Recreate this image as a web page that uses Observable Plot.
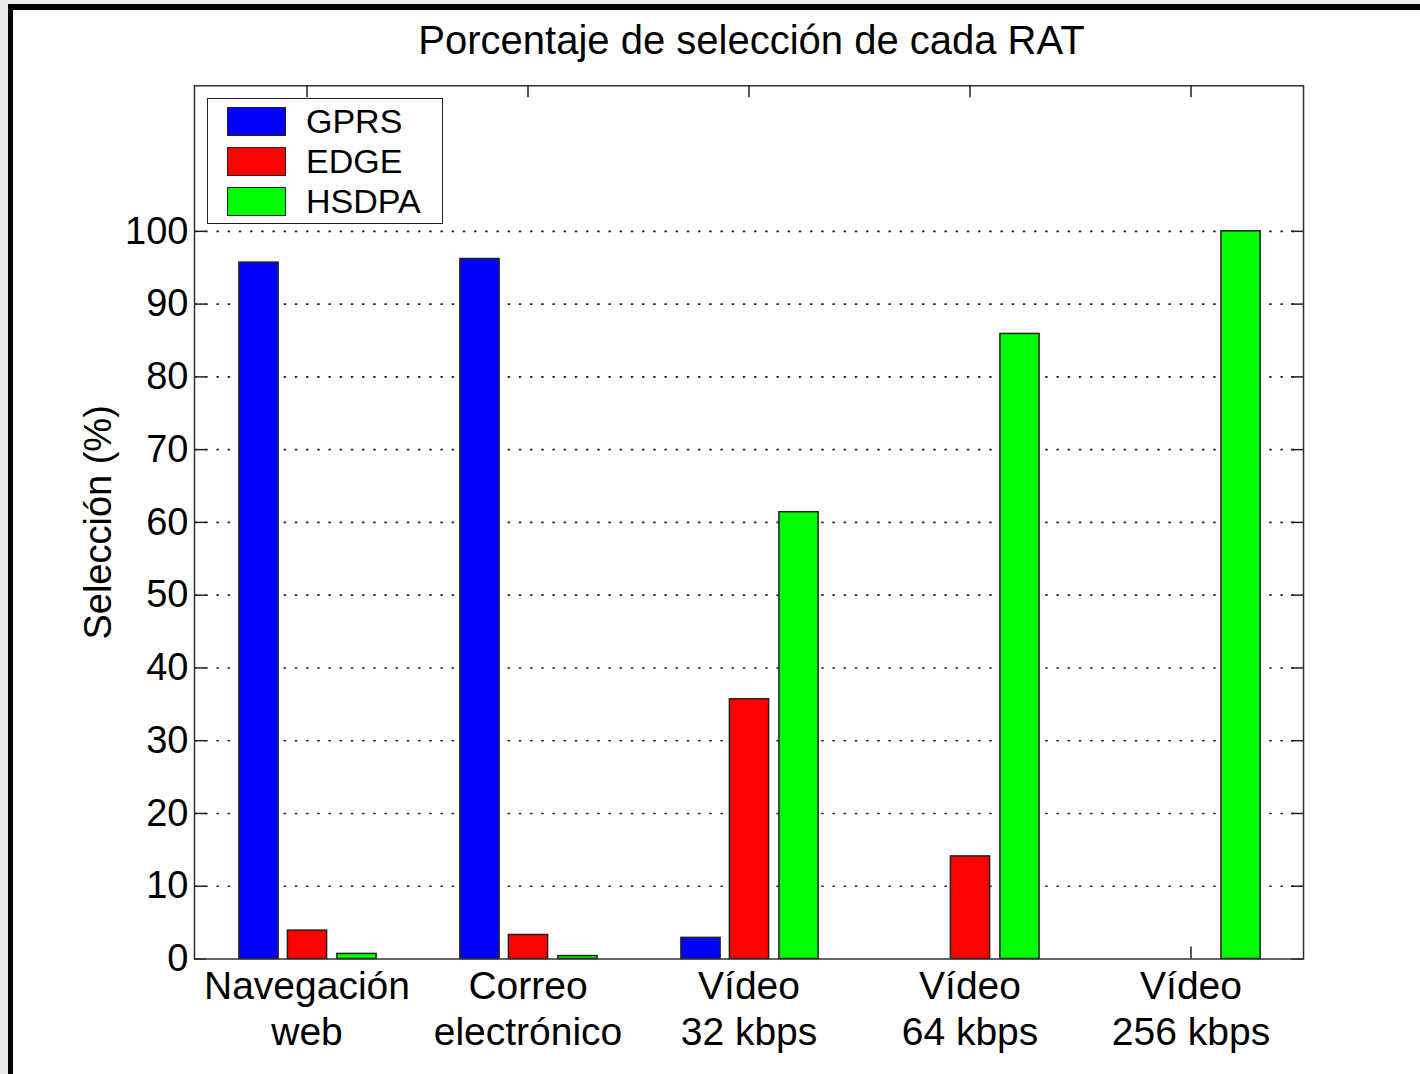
<!DOCTYPE html>
<html>
<head>
<meta charset="utf-8">
<script src="https://cdn.jsdelivr.net/npm/d3@7"></script>
<script src="https://cdn.jsdelivr.net/npm/@observablehq/plot@0.6"></script>
<style>
  html, body { margin: 0; padding: 0; }
  body {
    width: 1420px; height: 1074px; overflow: hidden; position: relative;
    background: #ebebeb;
    font-family: "Liberation Sans", Arial, Helvetica, sans-serif;
    color: #000;
  }
  #window {
    position: absolute; left: 8px; top: 4px; width: 1420px; height: 1080px;
    border-left: 5px solid #000; border-top: 6px solid #000;
    background: #fff; box-sizing: border-box;
  }
  #title {
    position: absolute; left: 197px; width: 1109px; top: 19.5px;
    font-size: 40px; line-height: 40px; text-align: center; white-space: nowrap;
  }
  #chart { position: absolute; left: 0; top: 70px; }
  #legend {
    position: absolute; left: 207px; top: 98px; width: 236px; height: 126px;
    box-sizing: border-box; border: 1.5px solid #222; background: #fff;
  }
  .entry { position: absolute; left: 19px; height: 29px; }
  .swatch {
    position: absolute; left: 0; top: 0; width: 59px; height: 29px;
    box-sizing: border-box; border: 1.5px solid #222;
  }
  .name {
    position: absolute; left: 79px; top: -3px; font-size: 34px; line-height: 34px; white-space: nowrap;
  }
</style>
</head>
<body>
<div id="window"></div>
<div id="title">Porcentaje de selección de cada RAT</div>
<div id="chart"></div>
<div id="legend"></div>
<script>
// Application categories (x axis) and their two-line labels
const categories = ["Navegación web", "Correo electrónico", "Vídeo 32 kbps", "Vídeo 64 kbps", "Vídeo 256 kbps"];
const categoryLabels = ["Navegación\nweb", "Correo\nelectrónico", "Vídeo\n32 kbps", "Vídeo\n64 kbps", "Vídeo\n256 kbps"];

// Radio access technologies and their selection percentages per category
const seriesNames = ["GPRS", "EDGE", "HSDPA"];
const seriesColors = ["#0000ff", "#ff0000", "#00ff00"];
const gprs  = [95.7, 96.2, 2.9, 0, 0];
const edge  = [3.9, 3.3, 35.7, 14.1, 0];
const hsdpa = [0.7, 0.4, 61.4, 85.9, 100];

// Y axis ticks
const yTicks = [0, 10, 20, 30, 40, 50, 60, 70, 80, 90, 100];

const seriesValues = [gprs, edge, hsdpa];
const barShift = [-48, 0.5, 50];   // horizontal offset of each series inside a group
const barWidth = 40;

const width = 1420, height = 1004;
const marginTop = 15.3, marginBottom = 115.5, marginLeft = 194, marginRight = 117;
const innerW = width - marginLeft - marginRight;
const innerH = height - marginTop - marginBottom;
const band = innerW / categories.length;
const tick = 12;
const ink = "#222";

const rows = seriesNames.map((name, s) =>
  categories.map((c, i) => ({category: c, series: name, value: seriesValues[s][i]}))
);

const barMarks = rows.map((data, s) =>
  Plot.barY(data, {
    x: "category", y: "value",
    fill: seriesColors[s], stroke: ink, strokeWidth: 1.5,
    insetLeft: (band - barWidth) / 2, insetRight: (band - barWidth) / 2,
    dx: barShift[s]
  })
);

const chart = Plot.plot({
  width, height, marginTop, marginBottom, marginLeft, marginRight,
  style: {background: "transparent", fontFamily: "'Liberation Sans', Arial, sans-serif", fontSize: "38px", color: "#000"},
  x: {type: "band", domain: categories, padding: 0, axis: null},
  y: {domain: [0, 120], axis: null},
  marks: [
    // dotted horizontal grid
    Plot.ruleY(yTicks.filter(d => d > 0), {stroke: "#222", strokeWidth: 1.6, strokeDasharray: "2.5,8.7"}),
    // inward ticks on left, right and bottom edges
    Plot.ruleY(yTicks, {stroke: ink, strokeWidth: 1.5, insetRight: innerW - tick}),
    Plot.ruleY(yTicks, {stroke: ink, strokeWidth: 1.5, insetLeft: innerW - tick}),
    Plot.ruleX(categories, {stroke: ink, strokeWidth: 1.5, insetTop: innerH - tick}),
    ...barMarks,
    Plot.frame({stroke: "#333", strokeWidth: 1.5}),
    // inward ticks on the top edge
    Plot.ruleX(categories, {stroke: ink, strokeWidth: 1.5, insetBottom: innerH - tick}),
    // y tick labels
    Plot.axisY(yTicks, {tickSize: 0, tickPadding: 6, label: null, fontSize: 38}),
    // category labels
    Plot.text(categories, {
      x: d => d, text: (d, i) => categoryLabels[i],
      frameAnchor: "bottom", lineAnchor: "bottom", dy: 85.5, lineHeight: 1.16,
      fontSize: 39, fill: "#000"
    }),
    // y axis title
    Plot.text(["Selección (%)"], {
      frameAnchor: "left", dx: -84, rotate: -90, lineAnchor: "bottom", textAnchor: "middle",
      fontSize: 38, fill: "#000"
    })
  ]
});
document.getElementById("chart").appendChild(chart);

// Legend
const legend = d3.select("#legend");
seriesNames.forEach((name, i) => {
  const e = legend.append("div").attr("class", "entry").style("top", `${8 + i * 40}px`);
  e.append("div").attr("class", "swatch").style("background", seriesColors[i]);
  e.append("div").attr("class", "name").text(name);
});
</script>
</body>
</html>
